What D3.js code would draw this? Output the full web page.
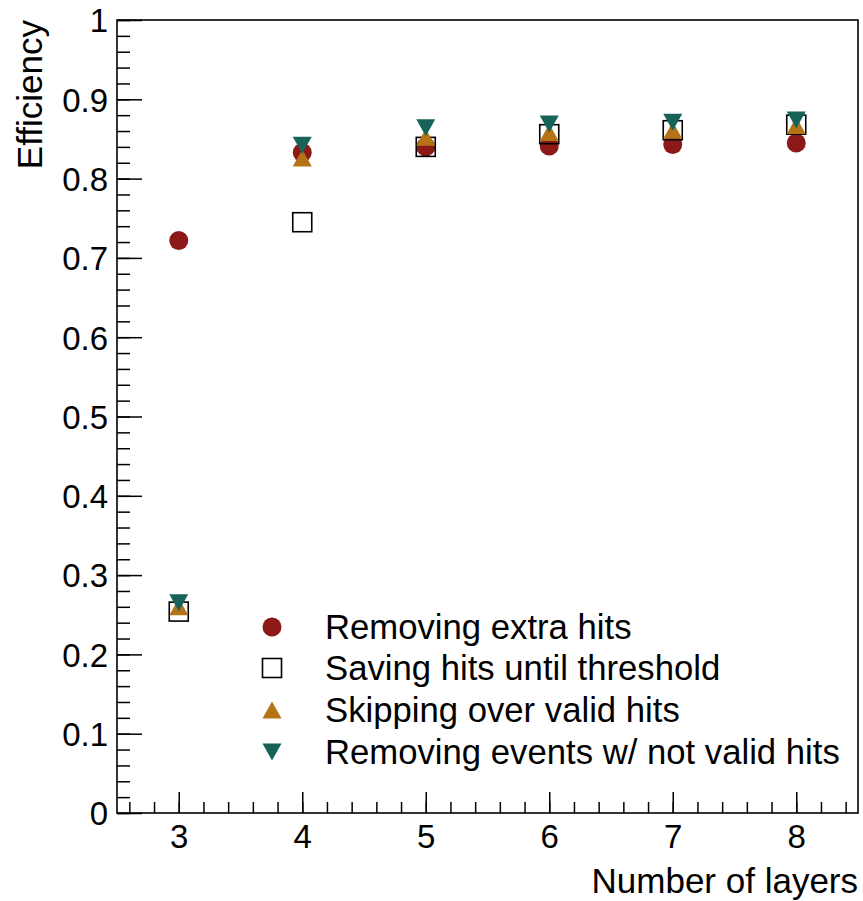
<!DOCTYPE html>
<html>
<head>
<meta charset="utf-8">
<script src="https://cdn.jsdelivr.net/npm/d3@7"></script>
<style>
  body { margin: 0; background: #fff; }
  text { font-family: "Liberation Sans", Arial, Helvetica, sans-serif; fill: #000; }
</style>
</head>
<body>
<div id="chart"></div>
<script>
const layers = [3, 4, 5, 6, 7, 8];
const removingExtraHits = [0.722, 0.833, 0.840, 0.841, 0.843, 0.845];
const savingHitsUntilThreshold = [0.254, 0.745, 0.840, 0.856, 0.861, 0.868];
const skippingOverValidHits = [0.260, 0.826, 0.852, 0.858, 0.861, 0.867];
const removingEventsNotValid = [0.265, 0.842, 0.864, 0.869, 0.871, 0.874];

const seriesNames = [
  "Removing extra hits",
  "Saving hits until threshold",
  "Skipping over valid hits",
  "Removing events w/ not valid hits"
];
const yTicks = [0, 0.1, 0.2, 0.3, 0.4, 0.5, 0.6, 0.7, 0.8, 0.9, 1];
const yTickLabels = ["0", "0.1", "0.2", "0.3", "0.4", "0.5", "0.6", "0.7", "0.8", "0.9", "1"];

const W = 863, H = 901;
const frame = { left: 117, right: 858, top: 20, bottom: 813 };

const x = d3.scaleLinear().domain([2.5, 8.5]).range([frame.left, frame.right]);
const y = d3.scaleLinear().domain([0, 1]).range([frame.bottom, frame.top]);

const svg = d3.select("#chart").append("svg")
  .attr("width", W)
  .attr("height", H);

svg.append("rect").attr("width", W).attr("height", H).attr("fill", "#fff");

// ROOT-like triangle marker with the box centred on the point
function tri(up) {
  return {
    draw(ctx, size) {
      const w = 19, h = 17;
      if (up) {
        ctx.moveTo(-w / 2, h / 2); ctx.lineTo(w / 2, h / 2); ctx.lineTo(0, -h / 2);
      } else {
        ctx.moveTo(-w / 2, -h / 2); ctx.lineTo(w / 2, -h / 2); ctx.lineTo(0, h / 2);
      }
      ctx.closePath();
    }
  };
}

const styles = [
  { shape: "circle", fill: "#8c1818", stroke: "none" },
  { shape: "square", fill: "none", stroke: "#000" },
  { shape: "up", fill: "#b57216", stroke: "none" },
  { shape: "down", fill: "#17635a", stroke: "none" }
];
const seriesValues = [removingExtraHits, savingHitsUntilThreshold, skippingOverValidHits, removingEventsNotValid];

function marker(g, st) {
  if (st.shape === "circle") {
    g.append("circle").attr("r", 9.5).attr("fill", st.fill);
  } else if (st.shape === "square") {
    g.append("rect").attr("x", -9.5).attr("y", -9.5).attr("width", 19).attr("height", 19)
      .attr("fill", "none").attr("stroke", st.stroke).attr("stroke-width", 1.6);
  } else {
    g.append("path").attr("d", d3.symbol().type(tri(st.shape === "up"))()).attr("fill", st.fill);
  }
}

// axes (ticks pointing into the frame)
const xMajor = d3.axisBottom(x).tickValues(layers).tickSize(-21).tickPadding(12).tickFormat(d3.format("d"));
const xMinor = d3.axisBottom(x).tickValues(d3.range(26, 86, 2).map(v => v / 10)).tickSize(-11).tickFormat("");
const yMajor = d3.axisLeft(y).tickValues(yTicks).tickSize(-25).tickPadding(9).tickFormat((d, i) => yTickLabels[i]);
const yMinor = d3.axisLeft(y).tickValues(d3.range(0, 101, 2).map(v => v / 100)).tickSize(-13).tickFormat("");

function styleAxis(g) {
  g.select(".domain").remove();
  g.selectAll("line").attr("stroke", "#000").attr("stroke-width", 1.5);
  g.selectAll("text").attr("font-size", 33).attr("font-family", "Liberation Sans, Arial, sans-serif").attr("fill", "#000");
}

svg.append("g").attr("transform", `translate(0,${frame.bottom})`).call(xMinor).call(styleAxis);
svg.append("g").attr("transform", `translate(0,${frame.bottom})`).call(xMajor).call(styleAxis);
svg.append("g").attr("transform", `translate(${frame.left},0)`).call(yMinor).call(styleAxis);
svg.append("g").attr("transform", `translate(${frame.left},0)`).call(yMajor).call(styleAxis)
  .selectAll("text").attr("dy", "0.36em");

svg.append("rect")
  .attr("x", frame.left).attr("y", frame.top)
  .attr("width", frame.right - frame.left).attr("height", frame.bottom - frame.top)
  .attr("fill", "none").attr("stroke", "#000").attr("stroke-width", 1.6);

// points
seriesValues.forEach((vals, s) => {
  const g = svg.append("g");
  vals.forEach((v, i) => {
    const m = g.append("g").attr("transform", `translate(${x(layers[i])},${y(v)})`);
    marker(m, styles[s]);
  });
});

// legend
const legendY = [627, 668, 710, 752];
seriesNames.forEach((name, i) => {
  const m = svg.append("g").attr("transform", `translate(272,${legendY[i]})`);
  marker(m, styles[i]);
  svg.append("text")
    .attr("x", 325).attr("y", legendY[i]).attr("dy", "0.36em")
    .attr("font-size", 34.7)
    .text(name);
});

// axis titles
svg.append("text")
  .attr("x", frame.right).attr("y", 893)
  .attr("text-anchor", "end")
  .attr("font-size", 35)
  .text("Number of layers");

svg.append("text")
  .attr("transform", `translate(42,${frame.top}) rotate(-90)`)
  .attr("text-anchor", "end")
  .attr("font-size", 35)
  .text("Efficiency");
</script>
</body>
</html>
